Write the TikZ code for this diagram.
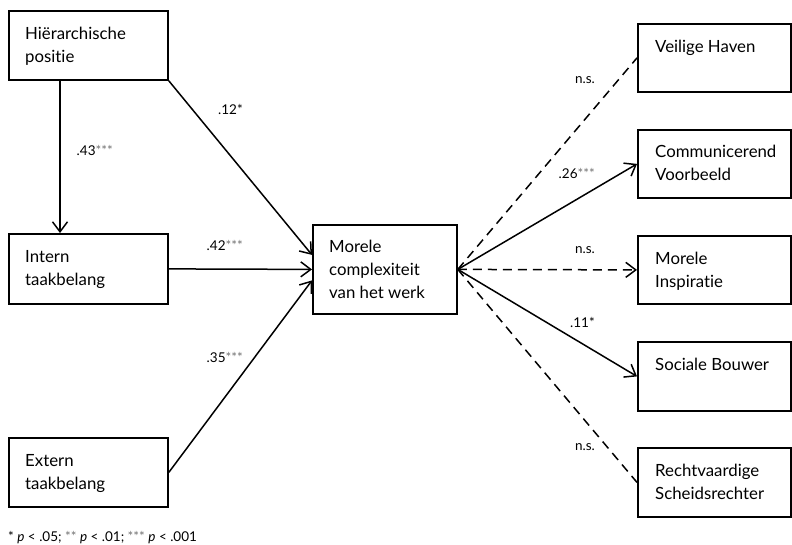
\documentclass[tikz,border=0pt]{standalone}
\usepackage{fontspec}
\setmainfont{Lato}[Ligatures=NoCommon]
\usetikzlibrary{arrows.meta}
\newcommand\sg[1]{\textcolor{black!55}{#1}}
\begin{document}
\begin{tikzpicture}[x=1pt,y=-1pt,
  box/.style={draw, line width=1.8pt, rectangle, inner sep=0pt, anchor=north west},
  lbox/.style={box, minimum width=159pt, minimum height=69pt},
  rbox/.style={box, minimum width=153pt, minimum height=68pt},
  txt/.style={anchor=base west, inner sep=0pt, font=\fontsize{16.8}{23}\selectfont},
  coef/.style={anchor=base east, inner sep=0pt, font=\fontsize{13.5}{15}\selectfont},
  arr/.style={line width=1.5pt, -{Straight Barb[length=10pt,width=15pt,line width=1.5pt]}},
  dsh/.style={line width=1.5pt, dash pattern=on 9pt off 6pt}]
\useasboundingbox (0,0) rectangle (792,544);
% left boxes
\node[lbox] (hp) at (8,10) {};
\node[lbox, minimum height=70pt] (it) at (8,233) {};
\node[lbox] (et) at (8,437) {};
% center
\node[box, minimum width=144pt, minimum height=89pt] (mc) at (312,224) {};
% right boxes
\node[rbox] (vh) at (637,23) {};
\node[rbox] (cv) at (637,129) {};
\node[rbox] (mi) at (637,235) {};
\node[rbox, minimum height=69pt] (sb) at (637,341) {};
\node[rbox, minimum height=69pt] (rs) at (637,447) {};
% texts
\node[txt] (hpt) at ([xshift=17pt,yshift=-29pt]hp.north west) {\parbox[t]{140pt}{Hiërarchische\\positie}};
\node[txt] (itt) at ([xshift=17pt,yshift=-29pt]it.north west) {\parbox[t]{140pt}{Intern\\taakbelang}};
\node[txt] (ett) at ([xshift=17pt,yshift=-29pt]et.north west) {\parbox[t]{140pt}{Extern\\taakbelang}};
\node[txt] (mct) at ([xshift=17pt,yshift=-28pt]mc.north west) {\parbox[t]{130pt}{Morele\\complexiteit\\van het werk}};
\node[txt] (vht) at ([xshift=18pt,yshift=-29pt]vh.north west) {\parbox[t]{135pt}{Veilige Haven}};
\node[txt] (cvt) at ([xshift=18pt,yshift=-28pt]cv.north west) {\parbox[t]{135pt}{Communicerend\\Voorbeeld}};
\node[txt] (mit) at ([xshift=18pt,yshift=-29pt]mi.north west) {\parbox[t]{135pt}{Morele\\Inspiratie}};
\node[txt] (sbt) at ([xshift=18pt,yshift=-29pt]sb.north west) {\parbox[t]{135pt}{Sociale Bouwer}};
\node[txt] (rst) at ([xshift=18pt,yshift=-29pt]rs.north west) {\parbox[t]{135pt}{Rechtvaardige\\Scheidsrechter}};
% connectors left
\draw[arr] ([xshift=52pt]hp.south west) -- ([xshift=52pt]it.north west);
\draw[arr] (hp.south east) -- ([yshift=14.5pt]mc.west);
\draw[arr] (it.east) -- (mc.west);
\draw[arr] (et.east) -- ([yshift=-11pt]mc.west);
% connectors right
\draw[dsh] (mc.east) -- (vh.west);
\draw[arr] (mc.east) -- (cv.west);
\draw[arr, dsh] (mc.east) -- (mi.west);
\draw[arr] (mc.east) -- (sb.west);
\draw[dsh] (mc.east) -- (rs.west);
% coefficients
\node[coef] (c1) at (243,114) {.12*};
\node[coef] (c2) at (113,155) {.43\sg{***}};
\node[coef] (c3) at (243,250) {.42\sg{***}};
\node[coef] (c4) at (243,362) {.35\sg{***}};
\node[coef] (c5) at (595,83) {n.s.};
\node[coef] (c6) at (595,178) {.26\sg{***}};
\node[coef] (c7) at (595,253) {n.s.};
\node[coef] (c8) at (595,327) {.11*};
\node[coef] (c9) at (595,450) {n.s.};
% footnote
\node[anchor=base west, inner sep=0pt, font=\fontsize{13.5}{15}\selectfont] (fn) at (8,541) {* \textit{p} < .05; \sg{**} \textit{p} < .01; \sg{***} \textit{p} < .001};
\end{tikzpicture}
\end{document}
